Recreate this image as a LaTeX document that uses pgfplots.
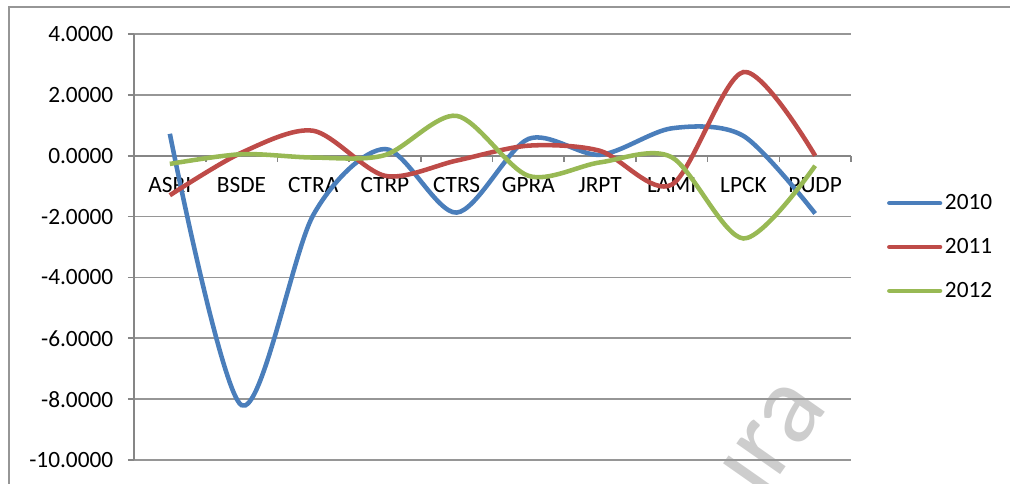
\documentclass[border=0pt]{standalone}
\usepackage{pgfplots}
\pgfplotsset{compat=1.18}
\usepackage{fontspec}
\setmainfont{Carlito}
\definecolor{sblue}{RGB}{74,126,187}
\definecolor{sred}{RGB}{190,75,72}
\definecolor{sgreen}{RGB}{152,185,84}
\definecolor{gridgray}{RGB}{150,150,150}
\definecolor{axgray}{RGB}{134,134,134}
\definecolor{wmgray}{RGB}{205,205,205}
\begin{document}
\begin{tikzpicture}
\useasboundingbox (0pt,0pt) rectangle (757.5pt,363pt);
\draw[color=gridgray,line width=1.2pt] (6.75pt,-5pt) -- (6.75pt,357.75pt) -- (770pt,357.75pt);
\begin{scope}
\clip (0pt,0pt) rectangle (757.5pt,363pt);
\node[rotate=55,text=wmgray,font=\fontsize{84}{90}\selectfont] at (573pt,24pt) {ura};
\end{scope}
\begin{axis}[
  at={(100.5pt,18pt)}, anchor=south west,
  scale only axis, width=537.75pt, height=319.5pt,
  xmin=-0.5, xmax=9.5, ymin=-10, ymax=4,
  axis y line*=left, axis x line*=middle,
  axis line style={color=axgray,line width=1.2pt},
  ytick={-10,-8,...,4},
  yticklabels={-10.0000,-8.0000,-6.0000,-4.0000,-2.0000,0.0000,2.0000,4.0000},
  xtick={0,...,9},
  xticklabels={ASRI,BSDE,CTRA,CTRP,CTRS,GPRA,JRPT,LAMI,LPCK,PUDP},
  minor xtick={-0.5,0.5,...,9.5},
  major x tick style={draw=none},
  minor x tick style={color=axgray,line width=1.2pt},
  major y tick style={color=axgray,line width=1.2pt},
  tick align=outside,
  major tick length=4.5pt, minor tick length=4.5pt,
  ymajorgrids, grid style={color=gridgray,line width=1.2pt},
  ticklabel style={font=\fontsize{17.5}{20}\selectfont},
  yticklabel style={xshift=-7.5pt},
  xticklabel style={yshift=-8pt},
  legend style={at={(1.05,0.5)},anchor=west,draw=none,fill=none,
    font=\fontsize{17.5}{20}\selectfont,row sep=16pt,inner sep=0pt,
    legend cell align=left},
  legend image code/.code={\draw[#1,line cap=round] (0pt,0pt) -- (38pt,0pt);},
  every axis plot/.append style={line width=3.4pt,smooth,no markers},
]
\addplot[color=sblue] coordinates {(0,0.72)(1,-8.2)(2,-1.95)(3,0.22)(4,-1.87)(5,0.55)(6,0.03)(7,0.9)(8,0.65)(9,-1.9)};
\addlegendentry{2010}
\addplot[color=sred] coordinates {(0,-1.3)(1,0.1)(2,0.82)(3,-0.66)(4,-0.16)(5,0.33)(6,0.16)(7,-0.95)(8,2.75)(9,0.0)};
\addlegendentry{2011}
\addplot[color=sgreen] coordinates {(0,-0.27)(1,0.05)(2,-0.06)(3,0.02)(4,1.31)(5,-0.66)(6,-0.22)(7,-0.05)(8,-2.72)(9,-0.33)};
\addlegendentry{2012}
\end{axis}
\end{tikzpicture}
\end{document}
